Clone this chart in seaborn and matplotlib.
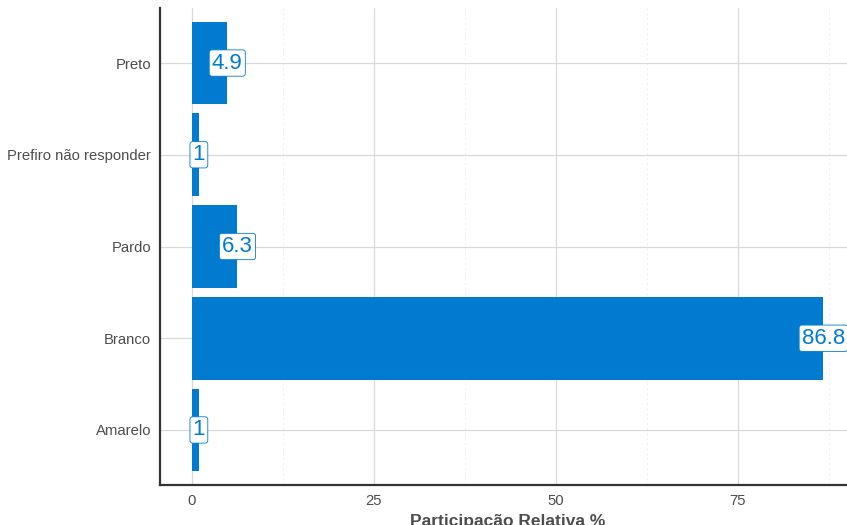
import seaborn as sns
import matplotlib.pyplot as plt
import pandas as pd

categorias = ['Preto', 'Prefiro não responder', 'Pardo', 'Branco', 'Amarelo']
valores = [4.9, 1.0, 6.3, 86.8, 1.0]
rotulos = ['4.9', '1', '6.3', '86.8', '1']

df = pd.DataFrame({'cor': categorias, 'pct': valores})

sns.set_style('white')
plt.rcParams['font.family'] = ['Liberation Sans', 'DejaVu Sans']

fig = plt.figure(figsize=(8.47, 5.25), dpi=100)
ax = fig.add_axes([160 / 847, 40 / 525, 695 / 847, 477 / 525])

azul = '#007BCF'
sns.barplot(data=df, x='pct', y='cor', order=categorias, color=azul,
            width=0.9, saturation=1, linewidth=0, ax=ax, zorder=2)

for i, (v, r) in enumerate(zip(valores, rotulos)):
    ax.text(v, i, r, ha='center', va='center', fontsize=16, color=azul, zorder=4,
            bbox=dict(boxstyle='round,pad=0.12', fc='white', ec=azul, lw=0.6))

ax.set_xlim(-4.34, 91.14)
ax.set_ylim(4.6, -0.6)
ax.set_xticks([0, 25, 50, 75])
ax.set_xticks([12.5, 37.5, 62.5, 87.5], minor=True)
ax.grid(True, which='major', color='#d9d9d9', lw=0.9, zorder=0)
ax.grid(True, which='minor', axis='x', color='#efefef', lw=0.6, ls=(0, (3, 3)), zorder=0)
ax.set_axisbelow(True)

for s in ['top', 'right']:
    ax.spines[s].set_visible(False)
for s in ['left', 'bottom']:
    ax.spines[s].set_color('#333333')
    ax.spines[s].set_linewidth(1.6)

ax.tick_params(axis='both', which='major', length=3.5, width=0.8, color='#999999',
               labelsize=10.7, labelcolor='#4d4d4d', pad=3)
ax.tick_params(axis='x', which='minor', length=0)
ax.set_ylabel('')
ax.set_xlabel('Participação Relativa %', fontsize=12.5, fontweight='bold',
              color='#4d4d4d', labelpad=4)

fig.savefig('out.png', dpi=100)
